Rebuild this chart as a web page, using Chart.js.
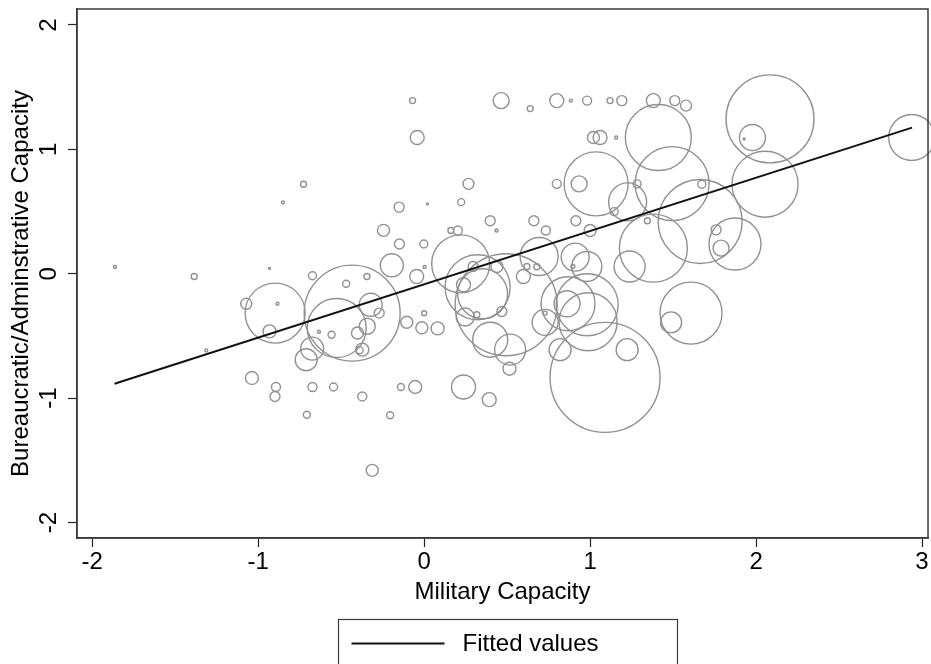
<!DOCTYPE html>
<html>
<head>
<meta charset="utf-8">
<script src="https://cdn.jsdelivr.net/npm/chart.js@4.4.1/dist/chart.umd.min.js"></script>
<style>
  html, body { margin: 0; padding: 0; background: #ffffff; }
  #wrap { width: 931px; height: 664px; position: relative; }
</style>
</head>
<body>
<div id="wrap"><canvas id="c" width="931" height="664"></canvas></div>
<script>
// ---- Data ----
const militaryCapacity = [
  -1.863, -1.386, -0.932, -0.727, -0.851, -0.245, -0.673, -0.345, -0.470, -0.195,
  -0.434, -0.898, -1.072, -0.884, -0.932, -0.527, -0.634, -0.558, -0.322, -0.271,
  -0.343, -0.402, -0.373, -0.389, -0.675, -0.711, -1.313, -1.038, -0.893, -0.899,
  -0.673, -0.546, -0.373, -0.707, -0.205, -0.313, -0.070, -0.042, -0.151, 0.020,
  0.223, 0.267, -0.149, -0.002, 0.161, 0.203, 0.398, 0.436, -0.045, 0.003,
  0.220, 0.295, 0.438, 0.598, 0.619, 0.679, 0.693, 0.322, 0.352, 0.494,
  0.237, 0.317, 0.468, 0.247, 0.398, 0.518, 0.514, -0.105, -0.014, 0.081,
  0.000, -0.140, -0.054, 0.237, 0.392, 0.729, 0.729, 0.464, 0.639, 0.799,
  0.884, 0.982, 1.120, 1.191, 1.381, 1.510, 1.578, 1.020, 1.060, 1.157,
  1.411, 0.799, 0.934, 1.036, 1.283, 1.494, 1.226, 1.145, 0.661, 0.914,
  1.345, 0.733, 1.000, 1.381, 0.910, 0.980, 0.896, 1.238, 0.867, 0.861,
  0.982, 0.988, 0.819, 1.223, 1.090, 1.608, 1.488, 2.084, 1.978, 1.928,
  2.054, 1.673, 2.938, 1.663, 1.873, 1.789, 1.759
];
const adminCapacity = [
  0.054, -0.022, 0.043, 0.720, 0.573, 0.349, -0.016, -0.022, -0.080, 0.068,
  -0.316, -0.316, -0.241, -0.241, -0.463, -0.436, -0.466, -0.490, -0.249, -0.316,
  -0.422, -0.476, -0.610, -0.614, -0.602, -0.691, -0.616, -0.838, -0.910, -0.986,
  -0.910, -0.910, -0.986, -1.133, -1.137, -1.580, 1.392, 1.095, 0.536, 0.562,
  0.576, 0.723, 0.239, 0.239, 0.348, 0.348, 0.426, 0.348, -0.022, 0.054,
  0.080, 0.059, 0.059, -0.022, 0.059, 0.056, 0.139, -0.108, -0.161, -0.249,
  -0.088, -0.329, -0.303, -0.348, -0.530, -0.610, -0.763, -0.390, -0.434, -0.439,
  -0.317, -0.910, -0.910, -0.910, -1.012, -0.391, -0.316, 1.392, 1.328, 1.392,
  1.392, 1.392, 1.392, 1.392, 1.392, 1.392, 1.352, 1.095, 1.095, 1.095,
  1.095, 0.723, 0.723, 0.723, 0.723, 0.725, 0.578, 0.500, 0.426, 0.426,
  0.426, 0.348, 0.348, 0.206, 0.134, 0.059, 0.059, 0.059, -0.241, -0.241,
  -0.249, -0.386, -0.610, -0.610, -0.833, -0.316, -0.391, 1.245, 1.095, 1.084,
  0.720, 0.720, 1.095, 0.420, 0.239, 0.206, 0.353
];
const weights = [
  0.56, 2.25, 0.25, 2.25, 0.56, 9, 4, 2.25, 3.06, 33.06,
  576, 225, 7.56, 0.56, 10.56, 217.56, 0.56, 3.06, 33.06, 6.25,
  16, 9, 10.56, 3.06, 33.06, 30.25, 0.56, 10.56, 5.06, 6.25,
  5.06, 4, 5.06, 3.06, 3.06, 9, 2.25, 12.25, 6.25, 0.25,
  3.06, 7.56, 6.25, 4, 2.25, 5.06, 6.25, 0.56, 12.25, 0.56,
  210.25, 6.25, 9, 12.25, 2.25, 2.25, 90.25, 264, 156.25, 650,
  12.25, 2.25, 6.25, 20.25, 76.56, 60.06, 10.56, 9, 9, 10.56,
  1.56, 3.06, 10.56, 36, 12.25, 42.25, 1, 16, 2.25, 12.25,
  0.56, 5.06, 2.25, 6.25, 12.25, 6.25, 7.56, 9, 12.25, 0.56,
  272.25, 5.06, 16, 256, 4, 342.25, 90.25, 4, 6.25, 6.25,
  2.25, 5.06, 9, 289, 49, 56.25, 1, 60.06, 182.25, 42.25,
  240.25, 210.25, 30.25, 30.25, 756.25, 240.25, 27.56, 484, 42.25, 0.25,
  272.25, 4, 132.25, 441, 169, 16, 6.25
];
const fittedX = [-1.866, 2.94];
const fittedY = [-0.884, 1.175];
const xTickValues = [-2, -1, 0, 1, 2, 3];
const yTickValues = [-2, -1, 0, 1, 2];
const xTitle = 'Military Capacity';
const yTitle = 'Bureaucratic/Adminstrative Capacity';
const fitLabel = 'Fitted values';

// ---- Build the chart ----
const FONT = '"Liberation Sans", Arial, Helvetica, sans-serif';
const RADIUS_PER_SQRT_WEIGHT = 2;

const bubblePoints = militaryCapacity.map((x, i) => ({
  x: x, y: adminCapacity[i], r: RADIUS_PER_SQRT_WEIGHT * Math.sqrt(weights[i])
}));
const fitPoints = fittedX.map((x, i) => ({ x: x, y: fittedY[i] }));

const boxLegend = {
  id: 'boxLegend',
  afterDraw(chart) {
    const ctx = chart.ctx;
    const ds = chart.data.datasets[0];
    const ca = chart.chartArea;
    const cx = (ca.left + ca.right) / 2 + 5;
    const w = 339;
    const left = Math.round(cx - w / 2) + 0.5;
    const top = ca.bottom + 81.5;
    ctx.save();
    ctx.strokeStyle = '#3a3a3a';
    ctx.lineWidth = 1.2;
    ctx.strokeRect(left, top, w, 70);
    const ly = top + 24;
    ctx.beginPath();
    ctx.moveTo(left + 13, ly);
    ctx.lineTo(left + 106, ly);
    ctx.strokeStyle = ds.borderColor;
    ctx.lineWidth = ds.borderWidth;
    ctx.stroke();
    ctx.fillStyle = '#000';
    ctx.font = '24px ' + FONT;
    ctx.textBaseline = 'middle';
    ctx.textAlign = 'left';
    ctx.fillText(ds.label, left + 124, ly + 1);
    ctx.restore();
  }
};

// Y-axis title, placed slightly below the plot-area centre as in the reference
const yAxisTitle = {
  id: 'yAxisTitle',
  afterDraw(chart) {
    const ctx = chart.ctx;
    const ca = chart.chartArea;
    ctx.save();
    ctx.translate(21.5, (ca.top + ca.bottom) / 2 + 10);
    ctx.rotate(-Math.PI / 2);
    ctx.fillStyle = '#000';
    ctx.font = '24px ' + FONT;
    ctx.textAlign = 'center';
    ctx.textBaseline = 'middle';
    ctx.fillText(yTitle, 0, 0);
    ctx.restore();
  }
};

const frame = {
  id: 'frame',
  afterDatasetsDraw(chart) {
    const ca = chart.chartArea;
    const ctx = chart.ctx;
    ctx.save();
    ctx.strokeStyle = '#3a3a3a';
    ctx.lineWidth = 1.5;
    ctx.strokeRect(ca.left, ca.top, ca.right - ca.left, ca.bottom - ca.top);
    ctx.restore();
  }
};

new Chart(document.getElementById('c'), {
  type: 'bubble',
  data: {
    datasets: [
      {
        type: 'line',
        label: fitLabel,
        data: fitPoints,
        borderColor: '#111111',
        borderWidth: 1.9,
        pointRadius: 0,
        fill: false,
        tension: 0,
        order: 0
      },
      {
        type: 'bubble',
        label: 'Observations',
        data: bubblePoints,
        backgroundColor: 'rgba(0,0,0,0)',
        borderColor: '#919191',
        borderWidth: 1.4,
        clip: false,
        order: 1
      }
    ]
  },
  options: {
    responsive: false,
    devicePixelRatio: 1,
    animation: false,
    events: [],
    layout: { autoPadding: false, padding: { left: 0, right: 3, top: 9, bottom: 54 } },
    plugins: {
      legend: { display: false },
      tooltip: { enabled: false }
    },
    scales: {
      x: {
        type: 'linear',
        min: -2.092,
        max: 3.036,
        afterBuildTicks: s => { s.ticks = xTickValues.map(v => ({ value: v })); },
        afterFit: s => { s.height = 72; s.paddingLeft = 0; s.paddingRight = 0; },
        ticks: {
          color: '#000',
          font: { family: FONT, size: 24 },
          padding: 1,
          maxRotation: 0,
          autoSkip: false,
          callback: v => String(v)
        },
        grid: { drawOnChartArea: false, drawTicks: true, tickLength: 9, tickColor: '#222', tickWidth: 1.2 },
        border: { display: true, color: '#3a3a3a', width: 1.5 },
        title: { display: true, text: xTitle, color: '#000', font: { family: FONT, size: 24 }, padding: { top: 0, bottom: 3 } }
      },
      y: {
        type: 'linear',
        min: -2.124,
        max: 2.1285,
        afterBuildTicks: s => { s.ticks = yTickValues.map(v => ({ value: v })); },
        afterFit: s => { s.width = 77; s.paddingTop = 0; s.paddingBottom = 0; },
        ticks: {
          color: '#000',
          font: { family: FONT, size: 24 },
          minRotation: 90,
          maxRotation: 90,
          crossAlign: 'center',
          padding: 8,
          autoSkip: false,
          callback: v => String(v)
        },
        grid: { drawOnChartArea: false, drawTicks: true, tickLength: 9, tickColor: '#222', tickWidth: 1.2 },
        border: { display: true, color: '#3a3a3a', width: 1.5 },
        title: { display: false, text: yTitle }
      }
    }
  },
  plugins: [frame, boxLegend, yAxisTitle]
});
</script>
</body>
</html>
